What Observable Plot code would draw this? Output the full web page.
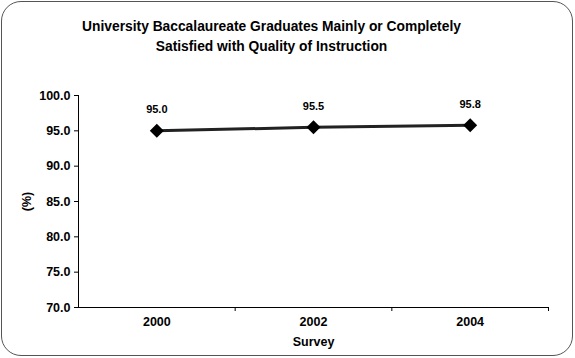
<!DOCTYPE html>
<html>
<head>
<meta charset="utf-8">
<script src="https://cdn.jsdelivr.net/npm/d3@7"></script>
<script src="https://cdn.jsdelivr.net/npm/@observablehq/plot@0.6"></script>
<style>
  html, body { margin: 0; padding: 0; background: #fff; }
  #wrap { position: relative; width: 575px; height: 358px; overflow: hidden; font-family: "Liberation Sans", Arial, sans-serif; }
  #border { position: absolute; left: 1px; top: 1px; width: 570px; height: 353px; border: 1.5px solid #555; border-radius: 20px; }
  #title { position: absolute; left: 0; top: 17px; width: 543px; text-align: center; font-weight: bold; font-size: 13.8px; line-height: 19.5px; color: #000; }
  #chart { position: absolute; left: 0; top: 70px; }
</style>
</head>
<body>
<div id="wrap">
  <div id="border"></div>
  <div id="title">University Baccalaureate Graduates Mainly or Completely<br>Satisfied with Quality of Instruction</div>
  <div id="chart"></div>
</div>
<script>
const years = [2000, 2002, 2004];
const values = [95.0, 95.5, 95.8];
const yTicks = [70, 75, 80, 85, 90, 95, 100];
const xBoundaries = [2001, 2003, 2005];
const data = years.map((y, i) => ({year: y, value: values[i]}));

const plot = Plot.plot({
  width: 575,
  height: 282,
  marginLeft: 78,
  marginRight: 27,
  marginTop: 25,
  marginBottom: 45,
  style: {fontFamily: "'Liberation Sans', Arial, sans-serif", fontWeight: "bold", fontSize: "12px", color: "#000", background: "transparent"},
  x: {domain: [1999, 2005]},
  y: {domain: [70, 100]},
  marks: [
    Plot.axisY({ticks: yTicks, tickFormat: d => d.toFixed(1), tickSize: 4, tickPadding: 4, label: "(%)", labelAnchor: "center", labelArrow: "none", labelOffset: 56, fontSize: 12.5}),
    Plot.axisX({ticks: xBoundaries, tickFormat: () => "", tickSize: 4, label: null}),
    Plot.axisX({ticks: years, tickFormat: d => String(d), tickSize: 0, tickPadding: 10, label: "Survey", labelAnchor: "center", labelArrow: "none", labelOffset: 38, fontSize: 12.5}),
    Plot.ruleX([1999], {stroke: "#000", strokeWidth: 1}),
    Plot.ruleY([70], {stroke: "#000", strokeWidth: 1}),
    Plot.line(data, {x: "year", y: "value", stroke: "#222", strokeWidth: 3}),
    Plot.dot(data, {x: "year", y: "value", symbol: "diamond2", r: 6.3, fill: "#000", stroke: "none"}),
    Plot.text(data, {x: "year", y: "value", text: d => d.value.toFixed(1), dy: -21, fontSize: 11, fontWeight: "bold", fill: "#000"})
  ]
});
document.getElementById("chart").appendChild(plot);
</script>
</body>
</html>
